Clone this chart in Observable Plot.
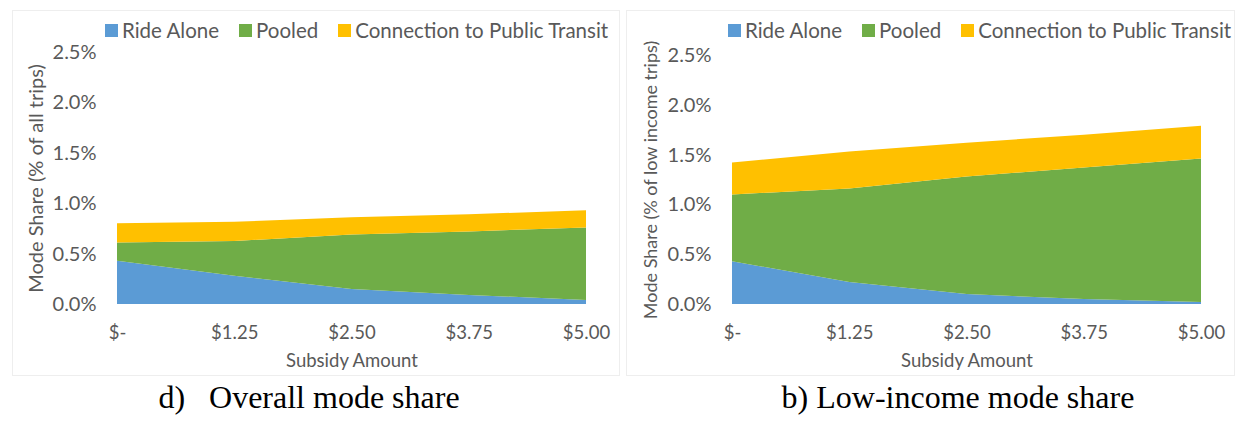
<!DOCTYPE html>
<html>
<head>
<meta charset="utf-8">
<script src="https://cdn.jsdelivr.net/npm/d3@7"></script>
<script src="https://cdn.jsdelivr.net/npm/@observablehq/plot@0.6"></script>
<style>
  html, body { margin: 0; padding: 0; background: #fff; }
  #fig { position: relative; width: 1235px; height: 424px; overflow: hidden; font-family: Lato, "Open Sans", sans-serif; }
  .box { position: absolute; border: 1px solid #eeeeee; box-sizing: border-box; }
  .chart { position: absolute; top: 0; }
  .legend { position: absolute; top: 18px; display: flex; align-items: center; font-size: 20.5px; color: #595959; white-space: nowrap; }
  .legend .item { display: flex; align-items: center; }
  .legend .sw { width: 13px; height: 13px; margin-right: 4px; }
  .caption { position: absolute; top: 381px; line-height: 1; font-family: "Liberation Serif", "Times New Roman", serif; font-size: 32px; color: #000; white-space: pre; transform: translateX(-50%); }
</style>
</head>
<body>
<div id="fig"></div>
<script>
// Subsidy levels on the x axis and their printed labels
const subsidy = [0, 1.25, 2.5, 3.75, 5];
const subsidyLabels = ["$-", "$1.25", "$2.50", "$3.75", "$5.00"];
const yTicks = [0, 0.5, 1.0, 1.5, 2.0, 2.5];

// Travel modes (stacked bottom to top) and their fills
const modes = ["Ride Alone", "Pooled", "Connection to Public Transit"];
const modeColors = ["#5B9BD5", "#70AD47", "#FFC000"];

// Overall mode share, % of all trips
const overallRideAlone = [0.43, 0.28, 0.15, 0.09, 0.04];
const overallPooled    = [0.18, 0.345, 0.54, 0.63, 0.72];
const overallTransit   = [0.19, 0.19, 0.17, 0.17, 0.17];

// Low-income mode share, % of low income trips
const lowIncomeRideAlone = [0.43, 0.22, 0.10, 0.05, 0.02];
const lowIncomePooled    = [0.67, 0.94, 1.18, 1.32, 1.44];
const lowIncomeTransit   = [0.32, 0.37, 0.34, 0.33, 0.33];

const fig = document.getElementById("fig");

function rowsFor(series) {
  const rows = [];
  subsidy.forEach((s, i) => {
    modes.forEach((m, k) => rows.push({subsidy: s, mode: m, share: series[k][i]}));
  });
  return rows;
}

function panel({left, width, marginLeft, marginTop, series, yLabel, yLabelSize, legendLeft, legendGaps, boxLeft, boxWidth, caption, captionX}) {
  const box = document.createElement("div");
  box.className = "box";
  Object.assign(box.style, {left: boxLeft + "px", top: "10px", width: boxWidth + "px", height: "366px"});
  fig.appendChild(box);

  const chart = Plot.plot({
    width,
    height: 372,
    marginLeft,
    marginRight: 34,
    marginTop,
    marginBottom: 68,
    style: {fontFamily: "Lato, 'Open Sans', sans-serif", fontSize: "18.5px", color: "#595959", background: "transparent", overflow: "visible"},
    x: {domain: [0, 5]},
    y: {domain: [0, 2.5]},
    color: {domain: modes, range: modeColors},
    marks: [
      Plot.areaY(rowsFor(series), {x: "subsidy", y: "share", fill: "mode", order: modes}),
      Plot.axisX({
        ticks: subsidy,
        tickFormat: d => subsidyLabels[subsidy.indexOf(d)],
        tickSize: 0,
        tickPadding: 21,
        label: "Subsidy Amount",
        labelAnchor: "center",
        labelOffset: 62,
        labelArrow: false
      }),
      Plot.axisY({
        ticks: yTicks,
        tickFormat: d => d.toFixed(1) + "%",
        tickSize: 0,
        tickPadding: 21,
        fontSize: 20,
        label: null
      }),
      Plot.text([yLabel], {
        frameAnchor: "left",
        dx: -81,
        rotate: -90,
        text: d => d,
        fill: "#595959",
        fontSize: yLabelSize,
        textAnchor: "middle"
      })
    ]
  });
  chart.classList.add("chart");
  chart.style.left = left + "px";
  fig.appendChild(chart);

  const legend = document.createElement("div");
  legend.className = "legend";
  legend.style.left = legendLeft + "px";
  modes.forEach((m, k) => {
    const item = document.createElement("div");
    item.className = "item";
    if (k > 0) item.style.marginLeft = legendGaps + "px";
    const sw = document.createElement("div");
    sw.className = "sw";
    sw.style.background = modeColors[k];
    const label = document.createElement("span");
    label.textContent = m;
    item.appendChild(sw);
    item.appendChild(label);
    legend.appendChild(item);
  });
  fig.appendChild(legend);

  const cap = document.createElement("div");
  cap.className = "caption";
  cap.style.left = captionX + "px";
  cap.textContent = caption;
  fig.appendChild(cap);
}

panel({
  left: 0, width: 620, marginLeft: 117, marginTop: 52,
  series: [overallRideAlone, overallPooled, overallTransit],
  yLabel: "Mode Share (% of all trips)", yLabelSize: 20,
  legendLeft: 105, legendGaps: 20,
  boxLeft: 12, boxWidth: 608,
  caption: "d)   Overall mode share", captionX: 309
});

panel({
  left: 620, width: 615, marginLeft: 112, marginTop: 55,
  series: [lowIncomeRideAlone, lowIncomePooled, lowIncomeTransit],
  yLabel: "Mode Share (% of low income trips)", yLabelSize: 18,
  legendLeft: 728, legendGaps: 20,
  boxLeft: 626, boxWidth: 609,
  caption: "b) Low-income mode share", captionX: 958
});
</script>
</body>
</html>
